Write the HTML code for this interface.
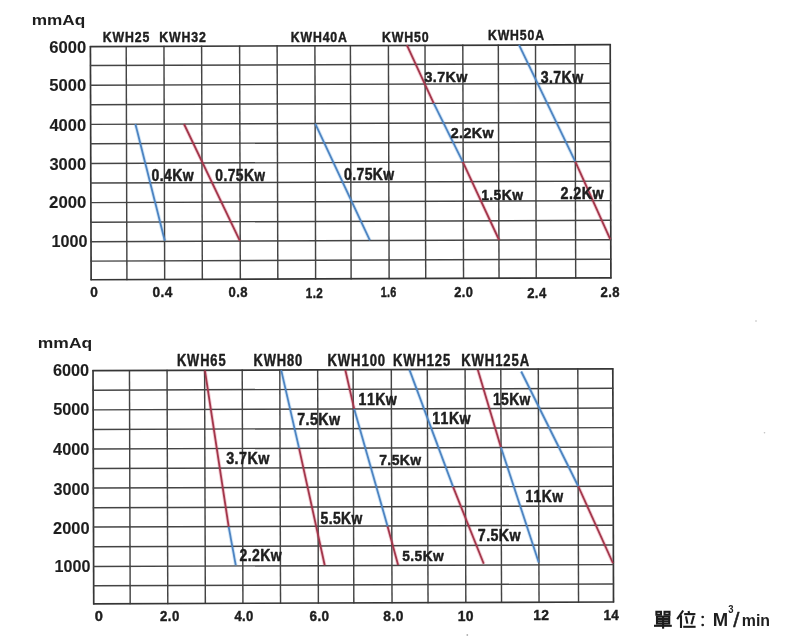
<!DOCTYPE html>
<html><head><meta charset="utf-8"><style>
html,body{margin:0;padding:0;background:#fff;width:790px;height:640px;overflow:hidden;}
svg{display:block;font-family:"Liberation Sans", sans-serif;will-change:transform;}
</style></head><body>
<svg width="790" height="640" viewBox="0 0 790 640">
<rect width="790" height="640" fill="#ffffff"/>
<polyline points="135.40,124.00 164.80,240.80" fill="none" stroke="#d3e6f6" stroke-width="3.6" stroke-linecap="butt"/>
<polyline points="184.00,124.00 239.90,240.80" fill="none" stroke="#f2cdd4" stroke-width="3.6" stroke-linecap="butt"/>
<polyline points="315.20,123.60 369.90,240.40" fill="none" stroke="#d3e6f6" stroke-width="3.6" stroke-linecap="butt"/>
<polyline points="406.90,45.10 433.75,103.40" fill="none" stroke="#f2cdd4" stroke-width="3.6" stroke-linecap="butt"/>
<polyline points="433.75,103.40 462.80,161.90" fill="none" stroke="#d3e6f6" stroke-width="3.6" stroke-linecap="butt"/>
<polyline points="462.80,161.90 499.10,240.00" fill="none" stroke="#f2cdd4" stroke-width="3.6" stroke-linecap="butt"/>
<polyline points="519.00,44.80 575.30,161.60" fill="none" stroke="#d3e6f6" stroke-width="3.6" stroke-linecap="butt"/>
<polyline points="575.30,161.60 610.30,239.40" fill="none" stroke="#f2cdd4" stroke-width="3.6" stroke-linecap="butt"/>
<polyline points="204.90,370.35 228.70,526.90" fill="none" stroke="#f2cdd4" stroke-width="3.6" stroke-linecap="butt"/>
<polyline points="228.70,526.90 235.80,565.30" fill="none" stroke="#d3e6f6" stroke-width="3.6" stroke-linecap="butt"/>
<polyline points="281.20,370.10 299.10,448.40" fill="none" stroke="#d3e6f6" stroke-width="3.6" stroke-linecap="butt"/>
<polyline points="299.10,448.40 324.70,565.30" fill="none" stroke="#f2cdd4" stroke-width="3.6" stroke-linecap="butt"/>
<polyline points="345.30,370.00 354.20,408.90" fill="none" stroke="#f2cdd4" stroke-width="3.6" stroke-linecap="butt"/>
<polyline points="354.20,408.90 387.60,526.40" fill="none" stroke="#d3e6f6" stroke-width="3.6" stroke-linecap="butt"/>
<polyline points="387.60,526.40 398.10,565.10" fill="none" stroke="#f2cdd4" stroke-width="3.6" stroke-linecap="butt"/>
<polyline points="409.40,369.60 453.10,486.90" fill="none" stroke="#d3e6f6" stroke-width="3.6" stroke-linecap="butt"/>
<polyline points="453.10,486.90 483.75,563.75" fill="none" stroke="#f2cdd4" stroke-width="3.6" stroke-linecap="butt"/>
<polyline points="477.80,369.70 500.90,447.20" fill="none" stroke="#f2cdd4" stroke-width="3.6" stroke-linecap="butt"/>
<polyline points="500.90,447.20 538.75,562.50" fill="none" stroke="#d3e6f6" stroke-width="3.6" stroke-linecap="butt"/>
<polyline points="521.20,371.50 578.25,486.25" fill="none" stroke="#d3e6f6" stroke-width="3.6" stroke-linecap="butt"/>
<polyline points="578.25,486.25 613.00,563.25" fill="none" stroke="#f2cdd4" stroke-width="3.6" stroke-linecap="butt"/>
<line x1="90.41" y1="46.03" x2="91.13" y2="280.37" stroke="#363636" stroke-width="1.7"/>
<line x1="126.21" y1="45.90" x2="126.93" y2="280.24" stroke="#444444" stroke-width="1.45"/>
<line x1="163.96" y1="45.75" x2="164.68" y2="280.09" stroke="#444444" stroke-width="1.45"/>
<line x1="201.61" y1="45.61" x2="202.33" y2="279.95" stroke="#444444" stroke-width="1.45"/>
<line x1="239.61" y1="45.46" x2="240.33" y2="279.80" stroke="#444444" stroke-width="1.45"/>
<line x1="277.11" y1="45.32" x2="277.83" y2="279.66" stroke="#444444" stroke-width="1.45"/>
<line x1="314.90" y1="45.18" x2="315.63" y2="279.52" stroke="#444444" stroke-width="1.45"/>
<line x1="350.40" y1="45.04" x2="351.13" y2="279.38" stroke="#444444" stroke-width="1.45"/>
<line x1="388.40" y1="44.90" x2="389.13" y2="279.24" stroke="#444444" stroke-width="1.45"/>
<line x1="425.00" y1="44.76" x2="425.73" y2="279.10" stroke="#444444" stroke-width="1.45"/>
<line x1="462.80" y1="44.62" x2="463.53" y2="278.96" stroke="#444444" stroke-width="1.45"/>
<line x1="498.30" y1="44.48" x2="499.03" y2="278.82" stroke="#444444" stroke-width="1.45"/>
<line x1="535.50" y1="44.34" x2="536.23" y2="278.68" stroke="#444444" stroke-width="1.45"/>
<line x1="575.00" y1="44.19" x2="575.72" y2="278.53" stroke="#444444" stroke-width="1.45"/>
<line x1="610.20" y1="44.06" x2="610.92" y2="278.40" stroke="#363636" stroke-width="1.7"/>
<line x1="89.81" y1="46.63" x2="610.81" y2="44.66" stroke="#363636" stroke-width="1.7"/>
<line x1="89.87" y1="65.57" x2="610.87" y2="63.60" stroke="#444444" stroke-width="1.45"/>
<line x1="89.93" y1="85.27" x2="610.93" y2="83.30" stroke="#444444" stroke-width="1.45"/>
<line x1="89.99" y1="104.72" x2="610.99" y2="102.75" stroke="#444444" stroke-width="1.45"/>
<line x1="90.05" y1="124.37" x2="611.05" y2="122.40" stroke="#444444" stroke-width="1.45"/>
<line x1="90.11" y1="143.77" x2="611.11" y2="141.80" stroke="#444444" stroke-width="1.45"/>
<line x1="90.17" y1="163.47" x2="611.17" y2="161.50" stroke="#444444" stroke-width="1.45"/>
<line x1="90.23" y1="183.07" x2="611.23" y2="181.10" stroke="#444444" stroke-width="1.45"/>
<line x1="90.29" y1="202.62" x2="611.29" y2="200.65" stroke="#444444" stroke-width="1.45"/>
<line x1="90.35" y1="222.27" x2="611.35" y2="220.30" stroke="#444444" stroke-width="1.45"/>
<line x1="90.41" y1="241.67" x2="611.41" y2="239.70" stroke="#444444" stroke-width="1.45"/>
<line x1="90.47" y1="261.12" x2="611.47" y2="259.15" stroke="#444444" stroke-width="1.45"/>
<line x1="90.53" y1="279.77" x2="611.53" y2="277.80" stroke="#363636" stroke-width="1.7"/>
<line x1="93.01" y1="370.07" x2="93.73" y2="604.42" stroke="#363636" stroke-width="1.7"/>
<line x1="129.46" y1="369.94" x2="130.18" y2="604.29" stroke="#444444" stroke-width="1.45"/>
<line x1="167.06" y1="369.81" x2="167.78" y2="604.16" stroke="#444444" stroke-width="1.45"/>
<line x1="204.61" y1="369.67" x2="205.33" y2="604.02" stroke="#444444" stroke-width="1.45"/>
<line x1="242.21" y1="369.54" x2="242.93" y2="603.89" stroke="#444444" stroke-width="1.45"/>
<line x1="279.81" y1="369.41" x2="280.53" y2="603.76" stroke="#444444" stroke-width="1.45"/>
<line x1="317.66" y1="369.28" x2="318.38" y2="603.63" stroke="#444444" stroke-width="1.45"/>
<line x1="353.10" y1="369.15" x2="353.83" y2="603.50" stroke="#444444" stroke-width="1.45"/>
<line x1="391.30" y1="369.02" x2="392.03" y2="603.37" stroke="#444444" stroke-width="1.45"/>
<line x1="427.30" y1="368.89" x2="428.03" y2="603.24" stroke="#444444" stroke-width="1.45"/>
<line x1="465.10" y1="368.75" x2="465.83" y2="603.10" stroke="#444444" stroke-width="1.45"/>
<line x1="500.80" y1="368.63" x2="501.53" y2="602.98" stroke="#444444" stroke-width="1.45"/>
<line x1="538.30" y1="368.50" x2="539.03" y2="602.85" stroke="#444444" stroke-width="1.45"/>
<line x1="577.80" y1="368.36" x2="578.53" y2="602.71" stroke="#444444" stroke-width="1.45"/>
<line x1="612.80" y1="368.23" x2="613.52" y2="602.58" stroke="#363636" stroke-width="1.7"/>
<line x1="92.41" y1="370.67" x2="613.41" y2="368.84" stroke="#363636" stroke-width="1.7"/>
<line x1="92.47" y1="390.17" x2="613.47" y2="388.34" stroke="#444444" stroke-width="1.45"/>
<line x1="92.53" y1="409.87" x2="613.53" y2="408.04" stroke="#444444" stroke-width="1.45"/>
<line x1="92.59" y1="429.47" x2="613.59" y2="427.64" stroke="#444444" stroke-width="1.45"/>
<line x1="92.65" y1="448.97" x2="613.65" y2="447.13" stroke="#444444" stroke-width="1.45"/>
<line x1="92.71" y1="468.52" x2="613.71" y2="466.68" stroke="#444444" stroke-width="1.45"/>
<line x1="92.77" y1="488.07" x2="613.77" y2="486.23" stroke="#444444" stroke-width="1.45"/>
<line x1="92.83" y1="507.77" x2="613.83" y2="505.93" stroke="#444444" stroke-width="1.45"/>
<line x1="92.89" y1="527.07" x2="613.89" y2="525.23" stroke="#444444" stroke-width="1.45"/>
<line x1="92.95" y1="546.77" x2="613.95" y2="544.93" stroke="#444444" stroke-width="1.45"/>
<line x1="93.01" y1="566.47" x2="614.01" y2="564.63" stroke="#444444" stroke-width="1.45"/>
<line x1="93.07" y1="585.82" x2="614.07" y2="583.98" stroke="#444444" stroke-width="1.45"/>
<line x1="93.13" y1="603.82" x2="614.13" y2="601.98" stroke="#363636" stroke-width="1.7"/>
<polyline points="135.40,124.00 164.80,240.80" fill="none" stroke="#4d84c2" stroke-width="1.8" stroke-linecap="butt"/>
<polyline points="184.00,124.00 239.90,240.80" fill="none" stroke="#a3364b" stroke-width="1.8" stroke-linecap="butt"/>
<polyline points="315.20,123.60 369.90,240.40" fill="none" stroke="#4d84c2" stroke-width="1.8" stroke-linecap="butt"/>
<polyline points="406.90,45.10 433.75,103.40" fill="none" stroke="#a3364b" stroke-width="1.8" stroke-linecap="butt"/>
<polyline points="433.75,103.40 462.80,161.90" fill="none" stroke="#4d84c2" stroke-width="1.8" stroke-linecap="butt"/>
<polyline points="462.80,161.90 499.10,240.00" fill="none" stroke="#a3364b" stroke-width="1.8" stroke-linecap="butt"/>
<polyline points="519.00,44.80 575.30,161.60" fill="none" stroke="#4d84c2" stroke-width="1.8" stroke-linecap="butt"/>
<polyline points="575.30,161.60 610.30,239.40" fill="none" stroke="#a3364b" stroke-width="1.8" stroke-linecap="butt"/>
<polyline points="204.90,370.35 228.70,526.90" fill="none" stroke="#a3364b" stroke-width="1.8" stroke-linecap="butt"/>
<polyline points="228.70,526.90 235.80,565.30" fill="none" stroke="#4d84c2" stroke-width="1.8" stroke-linecap="butt"/>
<polyline points="281.20,370.10 299.10,448.40" fill="none" stroke="#4d84c2" stroke-width="1.8" stroke-linecap="butt"/>
<polyline points="299.10,448.40 324.70,565.30" fill="none" stroke="#a3364b" stroke-width="1.8" stroke-linecap="butt"/>
<polyline points="345.30,370.00 354.20,408.90" fill="none" stroke="#a3364b" stroke-width="1.8" stroke-linecap="butt"/>
<polyline points="354.20,408.90 387.60,526.40" fill="none" stroke="#4d84c2" stroke-width="1.8" stroke-linecap="butt"/>
<polyline points="387.60,526.40 398.10,565.10" fill="none" stroke="#a3364b" stroke-width="1.8" stroke-linecap="butt"/>
<polyline points="409.40,369.60 453.10,486.90" fill="none" stroke="#4d84c2" stroke-width="1.8" stroke-linecap="butt"/>
<polyline points="453.10,486.90 483.75,563.75" fill="none" stroke="#a3364b" stroke-width="1.8" stroke-linecap="butt"/>
<polyline points="477.80,369.70 500.90,447.20" fill="none" stroke="#a3364b" stroke-width="1.8" stroke-linecap="butt"/>
<polyline points="500.90,447.20 538.75,562.50" fill="none" stroke="#4d84c2" stroke-width="1.8" stroke-linecap="butt"/>
<polyline points="521.20,371.50 578.25,486.25" fill="none" stroke="#4d84c2" stroke-width="1.8" stroke-linecap="butt"/>
<polyline points="578.25,486.25 613.00,563.25" fill="none" stroke="#a3364b" stroke-width="1.8" stroke-linecap="butt"/>
<g fill="#1e1e1e" font-family="Liberation Sans, sans-serif" style="font-kerning:none">
<text transform="matrix(0.01722 0 0 0.01497 31.72 24.93)" font-size="1000" font-weight="bold" stroke="#1e1e1e" stroke-width="0.0" stroke-linejoin="round">mmAq</text>
<text transform="matrix(0.01663 0 0 0.01614 49.18 53.25)" font-size="1000" font-weight="bold" stroke="#1e1e1e" stroke-width="6.1" stroke-linejoin="round">6000</text>
<text transform="matrix(0.01665 0 0 0.01586 49.14 91.25)" font-size="1000" font-weight="bold" stroke="#1e1e1e" stroke-width="6.2" stroke-linejoin="round">5000</text>
<text transform="matrix(0.01653 0 0 0.01628 49.40 130.55)" font-size="1000" font-weight="bold" stroke="#1e1e1e" stroke-width="6.1" stroke-linejoin="round">4000</text>
<text transform="matrix(0.01651 0 0 0.01586 49.44 169.55)" font-size="1000" font-weight="bold" stroke="#1e1e1e" stroke-width="6.2" stroke-linejoin="round">3000</text>
<text transform="matrix(0.01682 0 0 0.01586 49.07 208.45)" font-size="1000" font-weight="bold" stroke="#1e1e1e" stroke-width="6.1" stroke-linejoin="round">2000</text>
<text transform="matrix(0.01617 0 0 0.01614 51.49 247.25)" font-size="1000" font-weight="bold" stroke="#1e1e1e" stroke-width="6.2" stroke-linejoin="round">1000</text>
<text transform="matrix(0.01363 0 0 0.01503 90.17 297.47)" font-size="1000" font-weight="bold" letter-spacing="30" stroke="#1e1e1e" stroke-width="28.0" stroke-linejoin="round">0</text>
<text transform="matrix(0.01368 0 0 0.01503 152.47 297.47)" font-size="1000" font-weight="bold" letter-spacing="30" stroke="#1e1e1e" stroke-width="27.9" stroke-linejoin="round">0.4</text>
<text transform="matrix(0.01306 0 0 0.01503 228.49 297.47)" font-size="1000" font-weight="bold" letter-spacing="30" stroke="#1e1e1e" stroke-width="28.6" stroke-linejoin="round">0.8</text>
<text transform="matrix(0.01167 0 0 0.01536 305.87 297.70)" font-size="1000" font-weight="bold" letter-spacing="30" stroke="#1e1e1e" stroke-width="29.9" stroke-linejoin="round">1.2</text>
<text transform="matrix(0.01079 0 0 0.01503 380.63 297.47)" font-size="1000" font-weight="bold" letter-spacing="30" stroke="#1e1e1e" stroke-width="31.4" stroke-linejoin="round">1.6</text>
<text transform="matrix(0.01284 0 0 0.01503 454.30 297.47)" font-size="1000" font-weight="bold" letter-spacing="30" stroke="#1e1e1e" stroke-width="28.8" stroke-linejoin="round">2.0</text>
<text transform="matrix(0.01312 0 0 0.01536 527.19 297.70)" font-size="1000" font-weight="bold" letter-spacing="30" stroke="#1e1e1e" stroke-width="28.2" stroke-linejoin="round">2.4</text>
<text transform="matrix(0.01306 0 0 0.01503 600.59 297.47)" font-size="1000" font-weight="bold" letter-spacing="30" stroke="#1e1e1e" stroke-width="28.6" stroke-linejoin="round">2.8</text>
<text transform="matrix(0.01232 0 0 0.01517 102.73 42.26)" font-size="1000" font-weight="bold" letter-spacing="70" stroke="#1e1e1e" stroke-width="29.3" stroke-linejoin="round">KWH25</text>
<text transform="matrix(0.01235 0 0 0.01517 159.23 42.26)" font-size="1000" font-weight="bold" letter-spacing="70" stroke="#1e1e1e" stroke-width="29.2" stroke-linejoin="round">KWH32</text>
<text transform="matrix(0.01229 0 0 0.01517 290.73 42.06)" font-size="1000" font-weight="bold" letter-spacing="70" stroke="#1e1e1e" stroke-width="29.3" stroke-linejoin="round">KWH40A</text>
<text transform="matrix(0.01237 0 0 0.01517 381.93 42.06)" font-size="1000" font-weight="bold" letter-spacing="70" stroke="#1e1e1e" stroke-width="29.2" stroke-linejoin="round">KWH50</text>
<text transform="matrix(0.01227 0 0 0.01530 487.93 40.26)" font-size="1000" font-weight="bold" letter-spacing="70" stroke="#1e1e1e" stroke-width="29.2" stroke-linejoin="round">KWH50A</text>
<text transform="matrix(0.01402 0 0 0.01656 151.56 181.14)" font-size="1000" font-weight="bold" letter-spacing="30" stroke="#1e1e1e" stroke-width="29.5" stroke-linejoin="round">0.4Kw</text>
<text transform="matrix(0.01384 0 0 0.01656 215.37 181.14)" font-size="1000" font-weight="bold" letter-spacing="30" stroke="#1e1e1e" stroke-width="29.7" stroke-linejoin="round">0.75Kw</text>
<text transform="matrix(0.01398 0 0 0.01586 343.96 180.15)" font-size="1000" font-weight="bold" letter-spacing="30" stroke="#1e1e1e" stroke-width="30.2" stroke-linejoin="round">0.75Kw</text>
<text transform="matrix(0.01431 0 0 0.01461 424.38 82.47)" font-size="1000" font-weight="bold" letter-spacing="30" stroke="#1e1e1e" stroke-width="31.1" stroke-linejoin="round">3.7Kw</text>
<text transform="matrix(0.01432 0 0 0.01508 450.65 137.90)" font-size="1000" font-weight="bold" letter-spacing="30" stroke="#1e1e1e" stroke-width="30.6" stroke-linejoin="round">2.2Kw</text>
<text transform="matrix(0.01389 0 0 0.01461 481.13 200.47)" font-size="1000" font-weight="bold" letter-spacing="30" stroke="#1e1e1e" stroke-width="31.6" stroke-linejoin="round">1.5Kw</text>
<text transform="matrix(0.01414 0 0 0.01614 540.68 82.75)" font-size="1000" font-weight="bold" letter-spacing="30" stroke="#1e1e1e" stroke-width="29.8" stroke-linejoin="round">3.7Kw</text>
<text transform="matrix(0.01435 0 0 0.01564 560.55 198.80)" font-size="1000" font-weight="bold" letter-spacing="30" stroke="#1e1e1e" stroke-width="30.0" stroke-linejoin="round">2.2Kw</text>
<text transform="matrix(0.01749 0 0 0.01486 37.81 348.25)" font-size="1000" font-weight="bold" stroke="#1e1e1e" stroke-width="0.0" stroke-linejoin="round">mmAq</text>
<text transform="matrix(0.01630 0 0 0.01586 52.89 376.25)" font-size="1000" font-weight="bold" stroke="#1e1e1e" stroke-width="6.2" stroke-linejoin="round">6000</text>
<text transform="matrix(0.01632 0 0 0.01586 53.14 415.25)" font-size="1000" font-weight="bold" stroke="#1e1e1e" stroke-width="6.2" stroke-linejoin="round">5000</text>
<text transform="matrix(0.01635 0 0 0.01642 53.10 455.24)" font-size="1000" font-weight="bold" stroke="#1e1e1e" stroke-width="6.1" stroke-linejoin="round">4000</text>
<text transform="matrix(0.01619 0 0 0.01628 53.45 494.55)" font-size="1000" font-weight="bold" stroke="#1e1e1e" stroke-width="6.2" stroke-linejoin="round">3000</text>
<text transform="matrix(0.01644 0 0 0.01614 53.09 533.75)" font-size="1000" font-weight="bold" stroke="#1e1e1e" stroke-width="6.1" stroke-linejoin="round">2000</text>
<text transform="matrix(0.01612 0 0 0.01628 54.59 571.85)" font-size="1000" font-weight="bold" stroke="#1e1e1e" stroke-width="6.2" stroke-linejoin="round">1000</text>
<text transform="matrix(0.01466 0 0 0.01475 94.74 621.27)" font-size="1000" font-weight="bold" letter-spacing="30" stroke="#1e1e1e" stroke-width="27.2" stroke-linejoin="round">0</text>
<text transform="matrix(0.01320 0 0 0.01489 160.09 620.97)" font-size="1000" font-weight="bold" letter-spacing="30" stroke="#1e1e1e" stroke-width="28.5" stroke-linejoin="round">2.0</text>
<text transform="matrix(0.01312 0 0 0.01489 234.40 620.97)" font-size="1000" font-weight="bold" letter-spacing="30" stroke="#1e1e1e" stroke-width="28.6" stroke-linejoin="round">4.0</text>
<text transform="matrix(0.01357 0 0 0.01503 309.48 620.57)" font-size="1000" font-weight="bold" letter-spacing="30" stroke="#1e1e1e" stroke-width="28.0" stroke-linejoin="round">6.0</text>
<text transform="matrix(0.01378 0 0 0.01503 383.37 620.57)" font-size="1000" font-weight="bold" letter-spacing="30" stroke="#1e1e1e" stroke-width="27.8" stroke-linejoin="round">8.0</text>
<text transform="matrix(0.01395 0 0 0.01503 457.63 620.57)" font-size="1000" font-weight="bold" letter-spacing="30" stroke="#1e1e1e" stroke-width="27.6" stroke-linejoin="round">10</text>
<text transform="matrix(0.01384 0 0 0.01508 533.13 619.70)" font-size="1000" font-weight="bold" letter-spacing="30" stroke="#1e1e1e" stroke-width="27.7" stroke-linejoin="round">12</text>
<text transform="matrix(0.01353 0 0 0.01508 603.45 619.70)" font-size="1000" font-weight="bold" letter-spacing="30" stroke="#1e1e1e" stroke-width="28.0" stroke-linejoin="round">14</text>
<text transform="matrix(0.01289 0 0 0.01586 176.89 365.55)" font-size="1000" font-weight="bold" letter-spacing="70" stroke="#1e1e1e" stroke-width="28.0" stroke-linejoin="round">KWH65</text>
<text transform="matrix(0.01294 0 0 0.01586 253.39 365.55)" font-size="1000" font-weight="bold" letter-spacing="70" stroke="#1e1e1e" stroke-width="27.9" stroke-linejoin="round">KWH80</text>
<text transform="matrix(0.01311 0 0 0.01586 327.38 365.65)" font-size="1000" font-weight="bold" letter-spacing="70" stroke="#1e1e1e" stroke-width="27.7" stroke-linejoin="round">KWH100</text>
<text transform="matrix(0.01301 0 0 0.01600 392.89 365.55)" font-size="1000" font-weight="bold" letter-spacing="70" stroke="#1e1e1e" stroke-width="27.7" stroke-linejoin="round">KWH125</text>
<text transform="matrix(0.01309 0 0 0.01600 461.18 365.55)" font-size="1000" font-weight="bold" letter-spacing="70" stroke="#1e1e1e" stroke-width="27.6" stroke-linejoin="round">KWH125A</text>
<text transform="matrix(0.01434 0 0 0.01572 226.18 463.95)" font-size="1000" font-weight="bold" letter-spacing="30" stroke="#1e1e1e" stroke-width="30.0" stroke-linejoin="round">3.7Kw</text>
<text transform="matrix(0.01405 0 0 0.01593 239.46 560.60)" font-size="1000" font-weight="bold" letter-spacing="30" stroke="#1e1e1e" stroke-width="30.1" stroke-linejoin="round">2.2Kw</text>
<text transform="matrix(0.01428 0 0 0.01600 297.15 424.75)" font-size="1000" font-weight="bold" letter-spacing="30" stroke="#1e1e1e" stroke-width="29.8" stroke-linejoin="round">7.5Kw</text>
<text transform="matrix(0.01384 0 0 0.01586 320.58 523.55)" font-size="1000" font-weight="bold" letter-spacing="30" stroke="#1e1e1e" stroke-width="30.4" stroke-linejoin="round">5.5Kw</text>
<text transform="matrix(0.01410 0 0 0.01579 358.62 404.60)" font-size="1000" font-weight="bold" letter-spacing="30" stroke="#1e1e1e" stroke-width="30.2" stroke-linejoin="round">11Kw</text>
<text transform="matrix(0.01398 0 0 0.01517 379.16 464.56)" font-size="1000" font-weight="bold" letter-spacing="30" stroke="#1e1e1e" stroke-width="30.9" stroke-linejoin="round">7.5Kw</text>
<text transform="matrix(0.01381 0 0 0.01530 402.28 560.76)" font-size="1000" font-weight="bold" letter-spacing="30" stroke="#1e1e1e" stroke-width="31.0" stroke-linejoin="round">5.5Kw</text>
<text transform="matrix(0.01414 0 0 0.01735 432.32 424.00)" font-size="1000" font-weight="bold" letter-spacing="30" stroke="#1e1e1e" stroke-width="28.7" stroke-linejoin="round">11Kw</text>
<text transform="matrix(0.01425 0 0 0.01565 477.80 540.51)" font-size="1000" font-weight="bold" letter-spacing="30" stroke="#1e1e1e" stroke-width="30.1" stroke-linejoin="round">7.5Kw</text>
<text transform="matrix(0.01388 0 0 0.01642 492.93 404.54)" font-size="1000" font-weight="bold" letter-spacing="30" stroke="#1e1e1e" stroke-width="29.8" stroke-linejoin="round">15Kw</text>
<text transform="matrix(0.01399 0 0 0.01650 525.43 502.20)" font-size="1000" font-weight="bold" letter-spacing="30" stroke="#1e1e1e" stroke-width="29.6" stroke-linejoin="round">11Kw</text>
<text transform="matrix(0.01850 0 0 0.01778 712.74 626.30)" font-size="1000" font-weight="bold" stroke="#1e1e1e" stroke-width="0.0" stroke-linejoin="round">M</text>
<text transform="matrix(0.00950 0 0 0.01016 728.35 613.44)" font-size="1000" font-weight="bold" stroke="#1e1e1e" stroke-width="0.0" stroke-linejoin="round">3</text>
<text transform="matrix(0.02204 0 0 0.02107 733.20 627.27)" font-size="1000"  stroke="#1e1e1e" stroke-width="23.2" stroke-linejoin="round">/</text>
<text transform="matrix(0.01590 0 0 0.01702 741.81 626.30)" font-size="1000" font-weight="bold" stroke="#1e1e1e" stroke-width="0.0" stroke-linejoin="round">min</text>
</g>
<g fill="none" stroke="#1c1c1c" stroke-width="2.1" stroke-linecap="butt">
<rect x="656.4" y="611.8" width="4.6" height="2.9"/>
<rect x="664.5" y="611.8" width="5.0" height="2.9"/>
<rect x="657.0" y="616.6" width="12.2" height="7.0"/>
<line x1="657" y1="619.0" x2="669.2" y2="619.0"/>
<line x1="657" y1="621.3" x2="669.2" y2="621.3"/>
<line x1="663.1" y1="616.6" x2="663.1" y2="628.7"/>
<line x1="654" y1="625.8" x2="671.8" y2="625.8"/>
<line x1="683.2" y1="610.5" x2="677.2" y2="619.2"/>
<line x1="681" y1="615.2" x2="681" y2="628"/>
<line x1="688.6" y1="611" x2="689" y2="613.4"/>
<line x1="684.2" y1="614.1" x2="695.4" y2="614.1"/>
<line x1="686" y1="616.4" x2="687.4" y2="623.6"/>
<line x1="693.8" y1="615.8" x2="691.4" y2="624.2"/>
<line x1="683.2" y1="626.8" x2="695.6" y2="626.8"/>
</g>
<circle cx="702.7" cy="617.0" r="1.35" fill="#1c1c1c"/>
<circle cx="702.7" cy="625.0" r="1.35" fill="#1c1c1c"/>
<circle cx="756" cy="321" r="0.8" fill="#b8b8b8"/>
<circle cx="764.5" cy="432.7" r="0.8" fill="#c0c0c0"/>
<circle cx="467.3" cy="635" r="0.9" fill="#b0b0b0"/>
</svg>
</body></html>
